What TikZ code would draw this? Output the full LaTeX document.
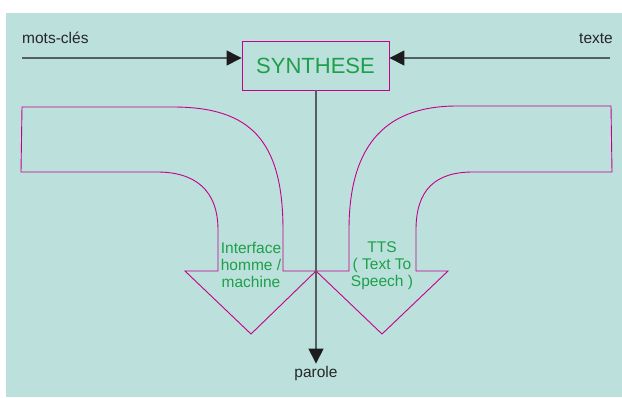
\documentclass[tikz,border=0pt]{standalone}
\usepackage{fontspec}
\setmainfont{Liberation Sans}
\usetikzlibrary{arrows.meta}
\definecolor{bgteal}{RGB}{188,224,220}
\definecolor{magline}{RGB}{196,0,140}
\definecolor{txtgreen}{RGB}{28,160,72}
\definecolor{wire}{RGB}{85,95,95}
\definecolor{tipblack}{RGB}{28,28,30}

\begin{document}
\begin{tikzpicture}
[x=1pt,y=-1pt,
 lbl/.style={text=black!85,font=\fontsize{15.5}{17}\selectfont,inner sep=0pt},
 inlbl/.style={text=txtgreen,font=\fontsize{15.5}{17}\selectfont,align=center,inner sep=0pt},
 wirearrow/.style={draw=wire,line width=1.4pt,-{Triangle[length=15pt,width=15pt,color=tipblack]}},
 bigarrow/.style={draw=magline,line width=0.9pt,line join=miter}]
\useasboundingbox (0,0) rectangle (622,397);
\fill[white] (0,0) rectangle (622,397);
\fill[bgteal] (6,13) rectangle (622,397);

% the two bent arrows
\draw[bigarrow] (22,107) -- (173,107) .. controls (250,107) and (283,140) .. (283,230)
  -- (283,271) -- (316,271) -- (251,334) -- (185,271) -- (218,271) -- (218,230)
  .. controls (218,190) and (195,172) .. (157,172) -- (21,172) -- cycle;
\draw[bigarrow] (316,271) -- (349,271) -- (349,230) .. controls (349,140) and (390,106) .. (457,106)
  -- (611,106) -- (612,172) -- (473,172) .. controls (435,172) and (416,190) .. (416,230)
  -- (416,271) -- (448,271) -- (382,334) -- cycle;

\node[draw=magline,line width=0.9pt,minimum width=147pt,minimum height=49pt,inner sep=0pt,
  text=txtgreen,font=\fontsize{22}{24}\selectfont] (synth) at (315.5,65.5) {SYNTHESE};

\node[lbl,anchor=base west] (kwtxt) at (22,43) {mots-clés};
\node[lbl,anchor=base east] (txtxt) at (613,43) {texte};
\node[lbl,anchor=base,inner sep=2pt] (parole) at (316,377) {parole};

\node[inlbl,anchor=base] (ihm) at (251,287) {Interface\\homme /\\machine};
\node[inlbl,anchor=base] (tts) at (382,286) {TTS\\( Text To\\Speech )};

\coordinate (kw) at (22,58);
\coordinate (tx) at (610,58);

\draw[wirearrow] (kw) -- (kw -| synth.west);
\draw[wirearrow] (tx) -- (tx -| synth.east);
\draw[wirearrow] (synth.south -| parole.north) -- (parole.north);
\end{tikzpicture}
\end{document}
